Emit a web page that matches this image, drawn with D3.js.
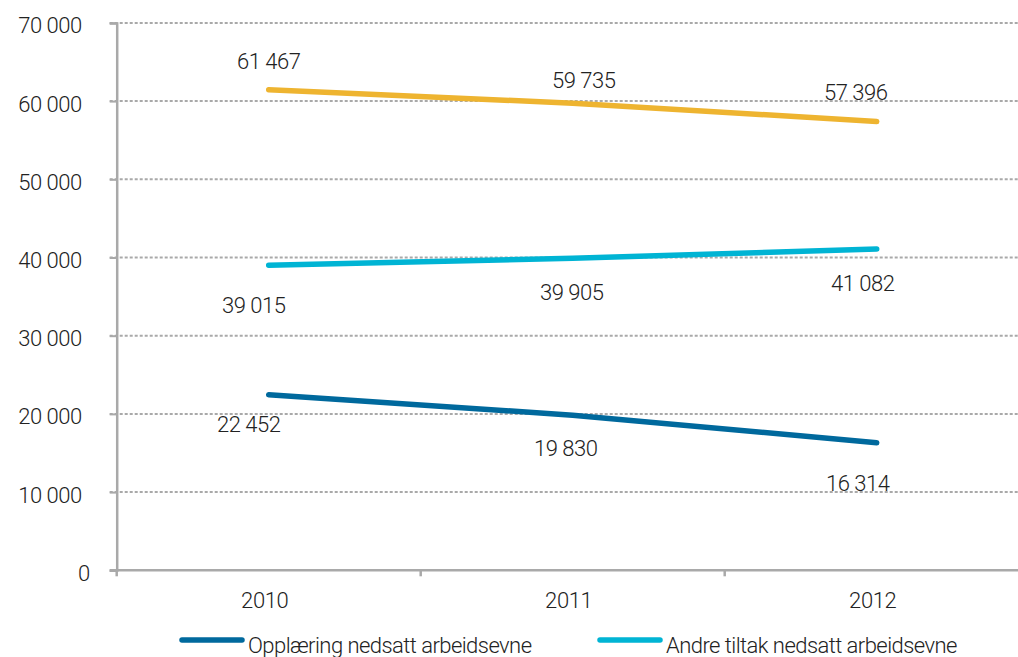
<!DOCTYPE html>
<html>
<head>
<meta charset="utf-8">
<script src="https://cdn.jsdelivr.net/npm/d3@7"></script>
<style>
  html, body { margin: 0; padding: 0; background: #fff; }
  svg text { font-family: Roboto, "Open Sans", sans-serif; font-weight: 300; fill: #222; }
</style>
</head>
<body>
<svg id="chart" width="1018" height="657"></svg>
<script>
// Tiltaksdeltakere med nedsatt arbeidsevne, 2010–2012
const years = ["2010", "2011", "2012"];
const totalt = [61467, 59735, 57396];
const andreTiltak = [39015, 39905, 41082];
const opplaering = [22452, 19830, 16314];
const yTicks = [0, 10000, 20000, 30000, 40000, 50000, 60000, 70000];

const seriesNames = ["Totalt", "Andre tiltak nedsatt arbeidsevne", "Opplæring nedsatt arbeidsevne"];
const seriesColors = ["#EEB430", "#00B4D4", "#00699D"];
const seriesValues = [totalt, andreTiltak, opplaering];

// label nudges (px) relative to each point: [dx, dy to baseline]
const labelNudge = [
  [[0, -21], [11, -15], [-21, -21]],
  [[-15, 48], [-1, 42], [-14, 42]],
  [[-20, 37], [-7, 41], [-19, 48]]
];

const svg = d3.select("#chart");
const plotLeft = 116.7, plotBottom = 570.3, plotTop = 22.9, step = 304;
const gridColor = "#a9a9a9";

const x = d3.scaleBand().domain(years).range([plotLeft, plotLeft + step * years.length]).padding(0);
const y = d3.scaleLinear().domain([0, 70000]).range([plotBottom, plotTop]);

const fmt = v => d3.format(",")(v).replace(/,/g, " ");

// horizontal dashed grid
svg.append("g")
  .selectAll("line")
  .data(yTicks.filter(d => d > 0))
  .join("line")
  .attr("x1", plotLeft - 7).attr("x2", 1018)
  .attr("y1", d => y(d)).attr("y2", d => y(d))
  .attr("stroke", gridColor).attr("stroke-width", 2)
  .attr("stroke-dasharray", "3,2");

// y axis
const yAxis = svg.append("g")
  .attr("transform", `translate(${plotLeft},0)`)
  .call(d3.axisLeft(y).tickValues(yTicks).tickSize(7).tickPadding(28).tickFormat(fmt));
yAxis.select(".domain").attr("stroke", gridColor).attr("stroke-width", 2.5);
yAxis.selectAll(".tick line").attr("stroke", gridColor).attr("stroke-width", 2);
yAxis.selectAll(".tick text")
  .attr("font-size", 22).attr("dy", "0.45em")
  .style("font-family", "Roboto, sans-serif").style("font-weight", 300).attr("fill", "#222")
  .attr("letter-spacing", "-0.5")
  .attr("dx", d => d === 0 ? 8 : 0);

// x axis
const xAxisG = svg.append("g").attr("transform", `translate(0,${plotBottom})`);
xAxisG.append("line")
  .attr("x1", plotLeft - 7).attr("x2", 1018)
  .attr("stroke", gridColor).attr("stroke-width", 2.5);
xAxisG.selectAll("line.tk")
  .data(years)
  .join("line").attr("class", "tk")
  .attr("x1", d => x(d)).attr("x2", d => x(d))
  .attr("y1", 0).attr("y2", 6)
  .attr("stroke", gridColor).attr("stroke-width", 2.5);
xAxisG.selectAll("text")
  .data(years)
  .join("text")
  .attr("x", d => x(d) + x.bandwidth() / 2 - 4)
  .attr("y", 37.5)
  .attr("text-anchor", "middle")
  .attr("font-size", 22).attr("letter-spacing", "-0.4")
  .text(d => d);

// lines
const line = d3.line()
  .x((d, i) => x(years[i]) + x.bandwidth() / 2)
  .y(d => y(d));

seriesValues.forEach((vals, s) => {
  svg.append("path")
    .datum(vals)
    .attr("d", line)
    .attr("fill", "none")
    .attr("stroke", seriesColors[s])
    .attr("stroke-width", 5.5)
    .attr("stroke-linecap", "round");
});

// value labels
seriesValues.forEach((vals, s) => {
  svg.append("g")
    .selectAll("text")
    .data(vals)
    .join("text")
    .attr("x", (d, i) => x(years[i]) + x.bandwidth() / 2 + labelNudge[s][i][0])
    .attr("y", (d, i) => y(d) + labelNudge[s][i][1])
    .attr("text-anchor", "middle")
    .attr("font-size", 22).attr("letter-spacing", "-0.5")
    .text(d => fmt(d));
});

// legend
const legendItems = [
  { name: seriesNames[2], color: seriesColors[2], x: 180 },
  { name: seriesNames[1], color: seriesColors[1], x: 598 }
];
const lg = svg.append("g").selectAll("g").data(legendItems).join("g")
  .attr("transform", d => `translate(${d.x},640)`);
lg.append("line")
  .attr("x1", 2).attr("x2", 62)
  .attr("stroke", d => d.color).attr("stroke-width", 5.5).attr("stroke-linecap", "round");
lg.append("text")
  .attr("x", 68).attr("y", 13)
  .attr("font-size", 22).attr("letter-spacing", "-0.55")
  .text(d => d.name);
</script>
</body>
</html>
